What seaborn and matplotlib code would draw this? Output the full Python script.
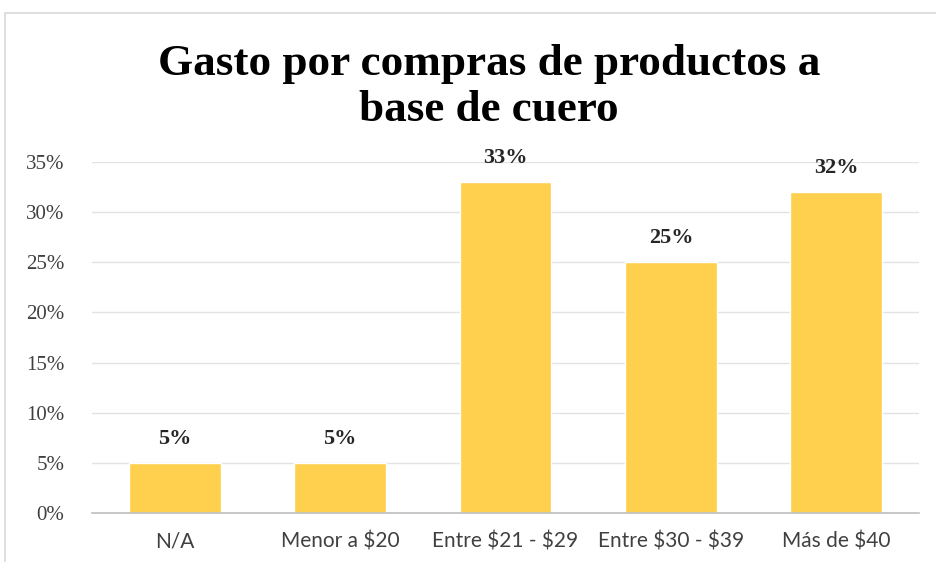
import seaborn as sns
import matplotlib.pyplot as plt
import pandas as pd
from matplotlib.patches import Rectangle
from matplotlib.ticker import PercentFormatter

# data
categorias = ["N/A", "Menor a $20", "Entre $21 - $29", "Entre $30 - $39", "Más de $40"]
porcentajes = [5, 5, 33, 25, 32]
etiquetas = ["5%", "5%", "33%", "25%", "32%"]

df = pd.DataFrame({"Rango": categorias, "Porcentaje": porcentajes})

sns.set_style("white")
plt.rcParams["text.parse_math"] = False

fig = plt.figure(figsize=(9.36, 5.62), dpi=100)
ax = fig.add_axes([92 / 936, 1 - 513 / 562, (919 - 92) / 936, (513 - 162) / 562])

sns.barplot(data=df, x="Rango", y="Porcentaje", color="#FFD04D",
            saturation=1, width=0.555, ax=ax)

ax.set_ylim(0, 35)
ax.set_yticks(range(0, 36, 5))
ax.yaxis.set_major_formatter(PercentFormatter(decimals=0))
ax.grid(axis="y", color="#E3E3E3", linewidth=1)
ax.set_axisbelow(True)
for s in ["top", "right", "left"]:
    ax.spines[s].set_visible(False)
ax.spines["bottom"].set_color("#BFBFBF")
ax.spines["bottom"].set_linewidth(1.2)
ax.tick_params(axis="both", length=0)
ax.tick_params(axis="y", pad=20)
ax.tick_params(axis="x", pad=13)
ax.set_xlabel("")
ax.set_ylabel("")

for lbl in ax.get_yticklabels():
    lbl.set_family("Liberation Serif")
    lbl.set_fontsize(15)
    lbl.set_color("#404040")
for lbl in ax.get_xticklabels():
    lbl.set_family("Lato")
    lbl.set_fontsize(15)
    lbl.set_color("#404040")

# value labels above bars
for p, txt in zip(ax.patches, etiquetas):
    ax.annotate(txt, (p.get_x() + p.get_width() / 2, p.get_height()),
                xytext=(0, 10), textcoords="offset points", ha="center",
                va="bottom", family="Liberation Serif", fontweight="bold",
                fontsize=16, color="#262626")

fig.text(489 / 936, 1 - 87 / 562, "Gasto por compras de productos a\nbase de cuero",
         ha="center", va="center", family="Liberation Serif", fontweight="bold",
         fontsize=32.5, linespacing=1.22, color="black")

# chart frame
fig.patches.append(Rectangle((5 / 936, -0.1), 1.2, 1 - 13 / 562 + 0.1,
                             transform=fig.transFigure, fill=False,
                             edgecolor="#D9D9D9", linewidth=1.2))

plt.savefig("out.png", dpi=100)
